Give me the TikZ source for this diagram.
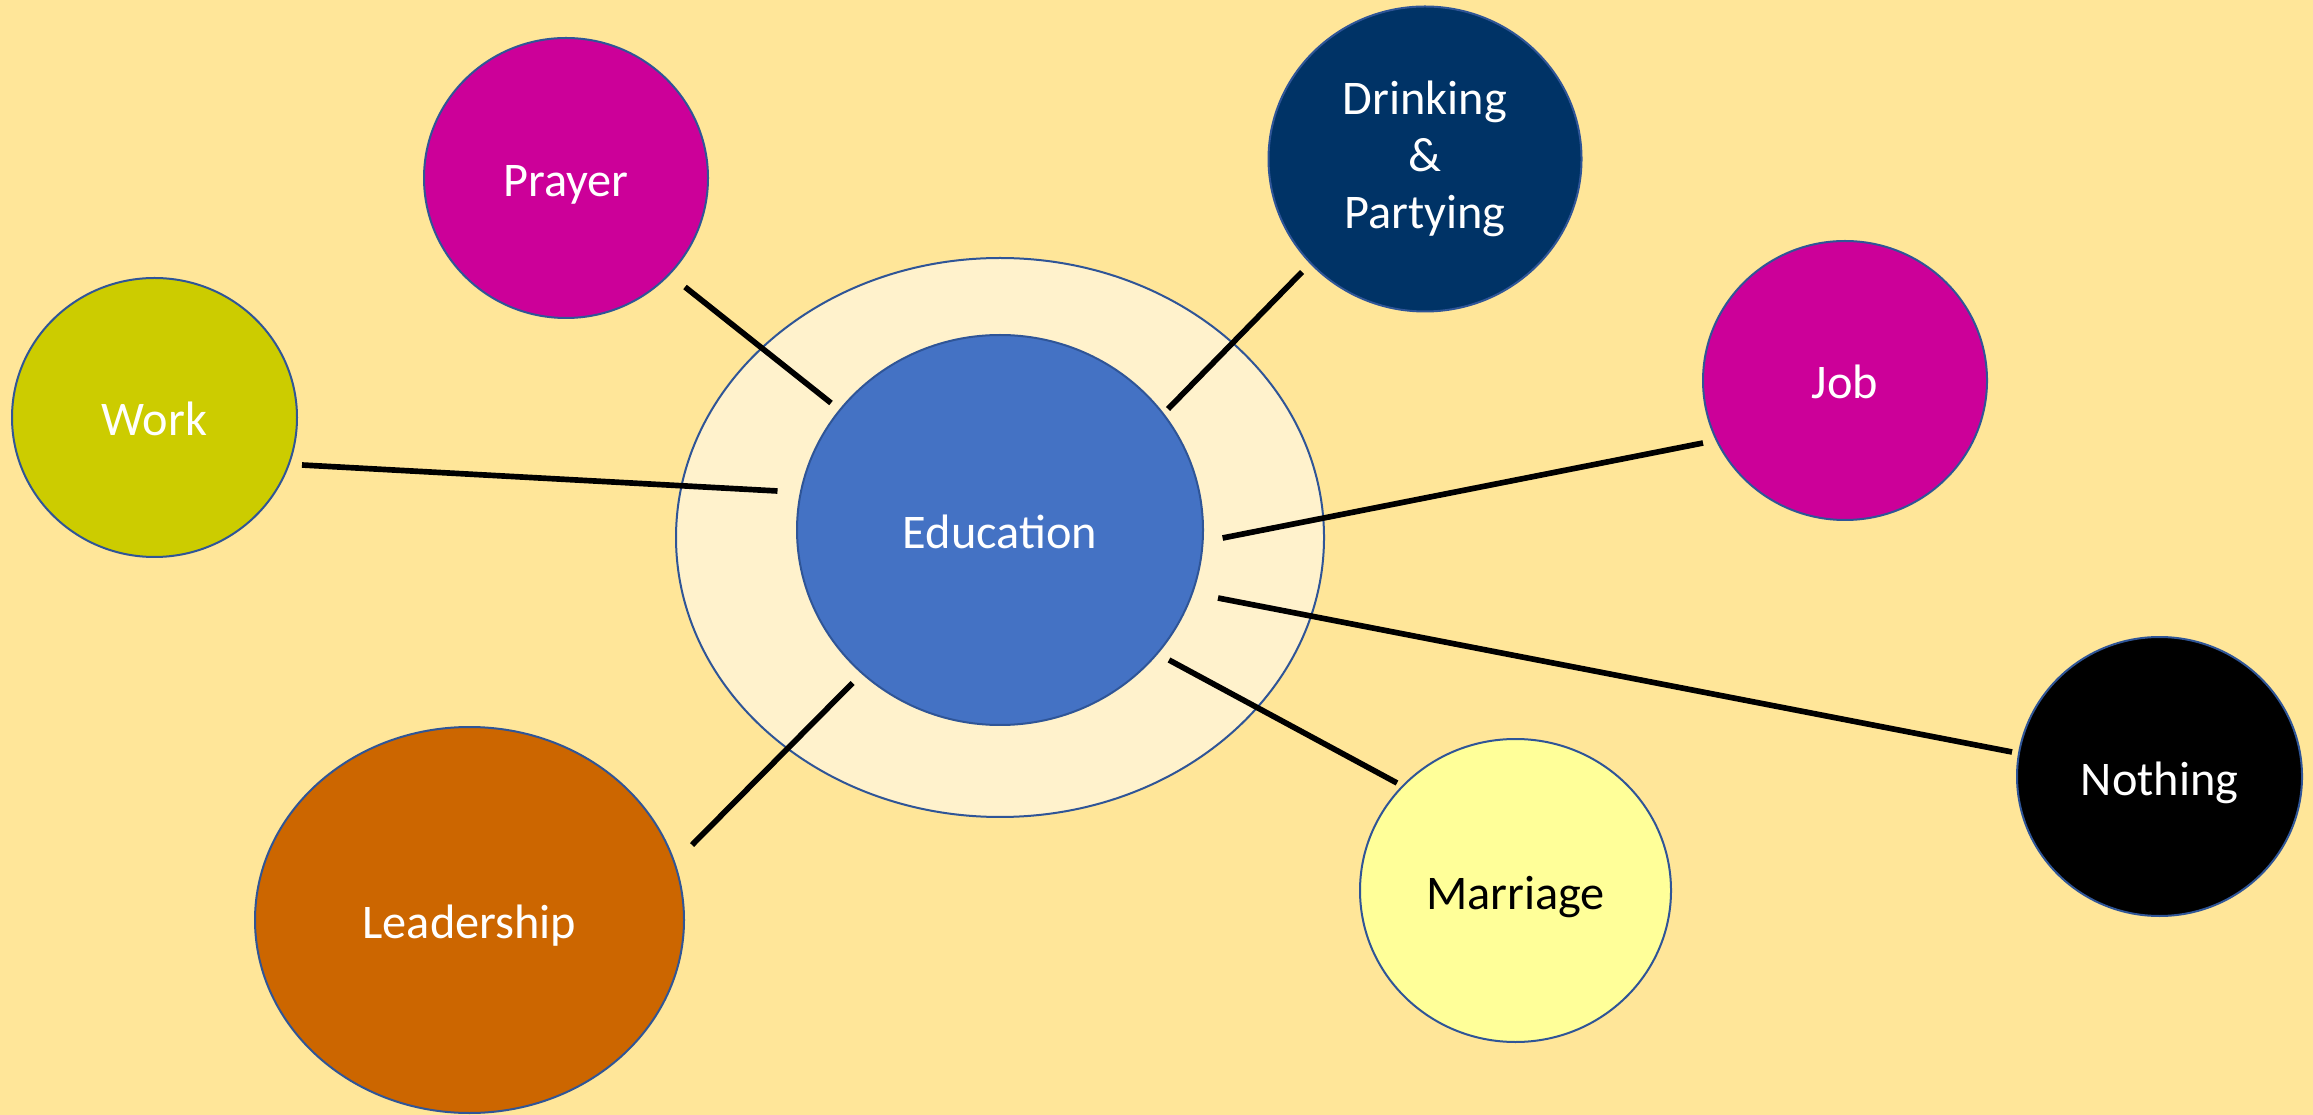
\documentclass[tikz,border=0pt]{standalone}
\usepackage{fontspec}
\setmainfont{Carlito}
\usetikzlibrary{shapes.geometric,calc}

\definecolor{bgyellow}{RGB}{255,230,153}
\definecolor{ringfill}{RGB}{255,242,204}
\definecolor{edublue}{RGB}{68,114,196}
\definecolor{edgeblue}{RGB}{47,85,151}
\definecolor{prayerpink}{RGB}{204,0,153}
\definecolor{partynavy}{RGB}{0,51,102}
\definecolor{workolive}{RGB}{204,204,0}
\definecolor{marriageyellow}{RGB}{255,255,153}
\definecolor{leaderrust}{RGB}{204,102,0}

\tikzset{every picture/.style={line width=0.75pt}}

\begin{document}
\begin{tikzpicture}[x=0.3pt,y=0.3pt,yscale=-1,xscale=1,
  bubble/.style={ellipse,draw=edgeblue,line width=0.6pt,inner sep=0pt,text=white,
    font=\fontsize{14.5}{17.2}\selectfont,align=center},
  oneline/.style={text height=12pt,text depth=0.9pt},
  link/.style={line width=1.7pt,black}]
%set diagram size: 2313 x 1115
\fill[bgyellow] (0,0) rectangle (2313,1115);
\useasboundingbox (0,0) rectangle (2313,1115);
\clip (0,0) rectangle (2313,1115);

%Shape: Ellipse [ring]
\node[bubble,fill=ringfill,minimum width=194.4pt,minimum height=167.7pt] (ring) at (1000,537.5) {};
%Shape: Ellipse [centre]
\node[bubble,oneline,fill=edublue,minimum width=121.8pt,minimum height=117pt] (edu) at (1000,530) {Education};

%Shape: Ellipse [outer bubbles]
\node[bubble,oneline,fill=prayerpink,minimum width=85.2pt,minimum height=84pt] (prayer) at (566,178) {Prayer};
\node[bubble,fill=partynavy,minimum width=93.9pt,minimum height=91.5pt] (party) at (1425,159) {Drinking\\\&\\Partying};
\node[bubble,oneline,fill=workolive,minimum width=85.5pt,minimum height=83.7pt] (work) at (154.5,417.5) {Work};
\node[bubble,oneline,fill=prayerpink,minimum width=85.2pt,minimum height=83.7pt] (job) at (1845,380.5) {Job};
\node[bubble,oneline,fill=black,minimum width=85.5pt,minimum height=83.7pt] (nothing) at (2159.5,776.5) {Nothing};
\node[bubble,oneline,fill=marriageyellow,text=black,minimum width=93.3pt,minimum height=90.9pt] (marriage) at (1515.5,890.5) {Marriage};
\node[bubble,oneline,fill=leaderrust,minimum width=128.7pt,minimum height=115.8pt] (leader) at (469.5,920) {Leadership};

%Straight Lines
\draw[link] ($(edu)+(-169,-127)$) -- ($(prayer)+(119,109)$);
\draw[link] ($(edu)+(168,-121)$) -- ($(party)+(-123,113)$);
\draw[link] ($(edu)+(-222.5,-39)$) -- ($(work)+(147.5,47.5)$);
\draw[link] ($(edu)+(222.6,8)$) -- ($(job)+(-142,62.5)$);
\draw[link] ($(edu)+(218,68)$) -- ($(nothing)+(-147.5,-24.5)$);
\draw[link] ($(edu)+(169,130)$) -- ($(marriage)+(-118.5,-107.5)$);
\draw[link] ($(edu)+(-147.5,153)$) -- ($(leader)+(222.5,-75)$);

\end{tikzpicture}
\end{document}
